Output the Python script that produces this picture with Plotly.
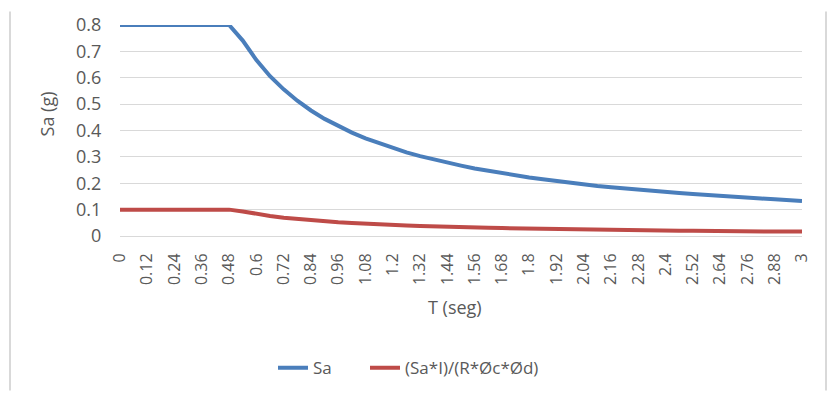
import plotly.graph_objects as go

T = [0, 0.06, 0.12, 0.18, 0.24, 0.30, 0.36, 0.42, 0.48, 0.54, 0.60, 0.66, 0.72, 0.78, 0.84, 0.90,
     0.96, 1.02, 1.08, 1.14, 1.20, 1.26, 1.32, 1.38, 1.44, 1.50, 1.56, 1.62, 1.68, 1.74, 1.80,
     1.86, 1.92, 1.98, 2.04, 2.10, 2.16, 2.22, 2.28, 2.34, 2.40, 2.46, 2.52, 2.58, 2.64, 2.70,
     2.76, 2.82, 2.88, 2.94, 3.00]

sa = [0.8, 0.8, 0.8, 0.8, 0.8, 0.8, 0.8, 0.8, 0.8, 0.741, 0.667, 0.606, 0.556, 0.513, 0.476,
      0.444, 0.417, 0.392, 0.370, 0.351, 0.333, 0.317, 0.303, 0.290, 0.278, 0.267, 0.256, 0.247,
      0.238, 0.230, 0.222, 0.215, 0.208, 0.202, 0.196, 0.190, 0.185, 0.180, 0.175, 0.171, 0.167,
      0.163, 0.159, 0.155, 0.152, 0.148, 0.145, 0.142, 0.139, 0.136, 0.133]

sa_red = [0.1, 0.1, 0.1, 0.1, 0.1, 0.1, 0.1, 0.1, 0.1, 0.093, 0.083, 0.076, 0.069, 0.064, 0.060,
          0.056, 0.052, 0.049, 0.046, 0.044, 0.042, 0.040, 0.038, 0.036, 0.035, 0.033, 0.032,
          0.031, 0.030, 0.029, 0.028, 0.027, 0.026, 0.025, 0.025, 0.024, 0.023, 0.023, 0.022,
          0.021, 0.021, 0.020, 0.020, 0.019, 0.019, 0.018, 0.018, 0.018, 0.017, 0.017, 0.017]

tick_vals = [0, 0.12, 0.24, 0.36, 0.48, 0.6, 0.72, 0.84, 0.96, 1.08, 1.2, 1.32, 1.44, 1.56, 1.68,
             1.8, 1.92, 2.04, 2.16, 2.28, 2.4, 2.52, 2.64, 2.76, 2.88, 3]
tick_text = ["0", "0.12", "0.24", "0.36", "0.48", "0.6", "0.72", "0.84", "0.96", "1.08", "1.2",
             "1.32", "1.44", "1.56", "1.68", "1.8", "1.92", "2.04", "2.16", "2.28", "2.4", "2.52",
             "2.64", "2.76", "2.88", "3"]

names = ["Sa", "(Sa*I)/(R*Øc*Ød)"]
colors = ["#4A7EBB", "#BE4B48"]
legends = ["legend", "legend2"]

FONT = "Open Sans"
GRAY = "#595959"

fig = go.Figure()
for y, n, c, lg in zip([sa, sa_red], names, colors, legends):
    fig.add_trace(go.Scatter(x=T, y=y, name=n, mode="lines", legend=lg,
                             line=dict(color=c, width=4)))

L, R, TOP, B = 120, 28, 22, 159
W, H = 830, 398
pw = W - L - R
ph = H - TOP - B

def px(x):
    return (x - L) / pw

def py(y):
    return (H - B - y) / ph

fig.update_layout(
    width=W, height=H,
    margin=dict(l=L, r=R, t=TOP, b=B),
    paper_bgcolor="white", plot_bgcolor="white",
    font=dict(family=FONT, color=GRAY, size=16),
    xaxis=dict(range=[0, 3], tickvals=tick_vals, ticktext=tick_text, tickangle=-90,
               showgrid=False, zeroline=False, showline=False,
               ticks="outside", ticklen=10, tickcolor="rgba(0,0,0,0)",
               tickfont=dict(size=16, color=GRAY)),
    yaxis=dict(range=[0, 0.8], dtick=0.1, tickformat="~g", showgrid=True,
               gridcolor="#D9D9D9", gridwidth=1, zeroline=True, zerolinecolor="#D9D9D9",
               zerolinewidth=1, showline=False,
               ticks="outside", ticklen=14, tickcolor="rgba(0,0,0,0)",
               tickfont=dict(size=18, color=GRAY)),
    legend=dict(orientation="h", x=px(273), xanchor="left", y=py(375), yanchor="middle",
                font=dict(size=17, color=GRAY)),
    legend2=dict(orientation="h", x=px(365), xanchor="left", y=py(375), yanchor="middle",
                 font=dict(size=17, color=GRAY)),
    showlegend=True,
    annotations=[
        dict(text="T (seg)", xref="paper", yref="paper", x=px(455), y=py(312),
             showarrow=False, font=dict(size=18, color=GRAY), xanchor="center", yanchor="middle"),
        dict(text="Sa (g)", xref="paper", yref="paper", x=px(47), y=py(114), textangle=-90,
             showarrow=False, font=dict(size=18, color=GRAY), xanchor="center", yanchor="middle"),
    ],
    shapes=[
        dict(type="line", xref="paper", yref="paper", x0=px(10), x1=px(10), y0=py(8), y1=py(398),
             line=dict(color="#D9D9D9", width=2)),
        dict(type="line", xref="paper", yref="paper", x0=px(826), x1=px(826), y0=py(8), y1=py(398),
             line=dict(color="#D9D9D9", width=2)),
    ],
)

fig.write_html("out.html")
